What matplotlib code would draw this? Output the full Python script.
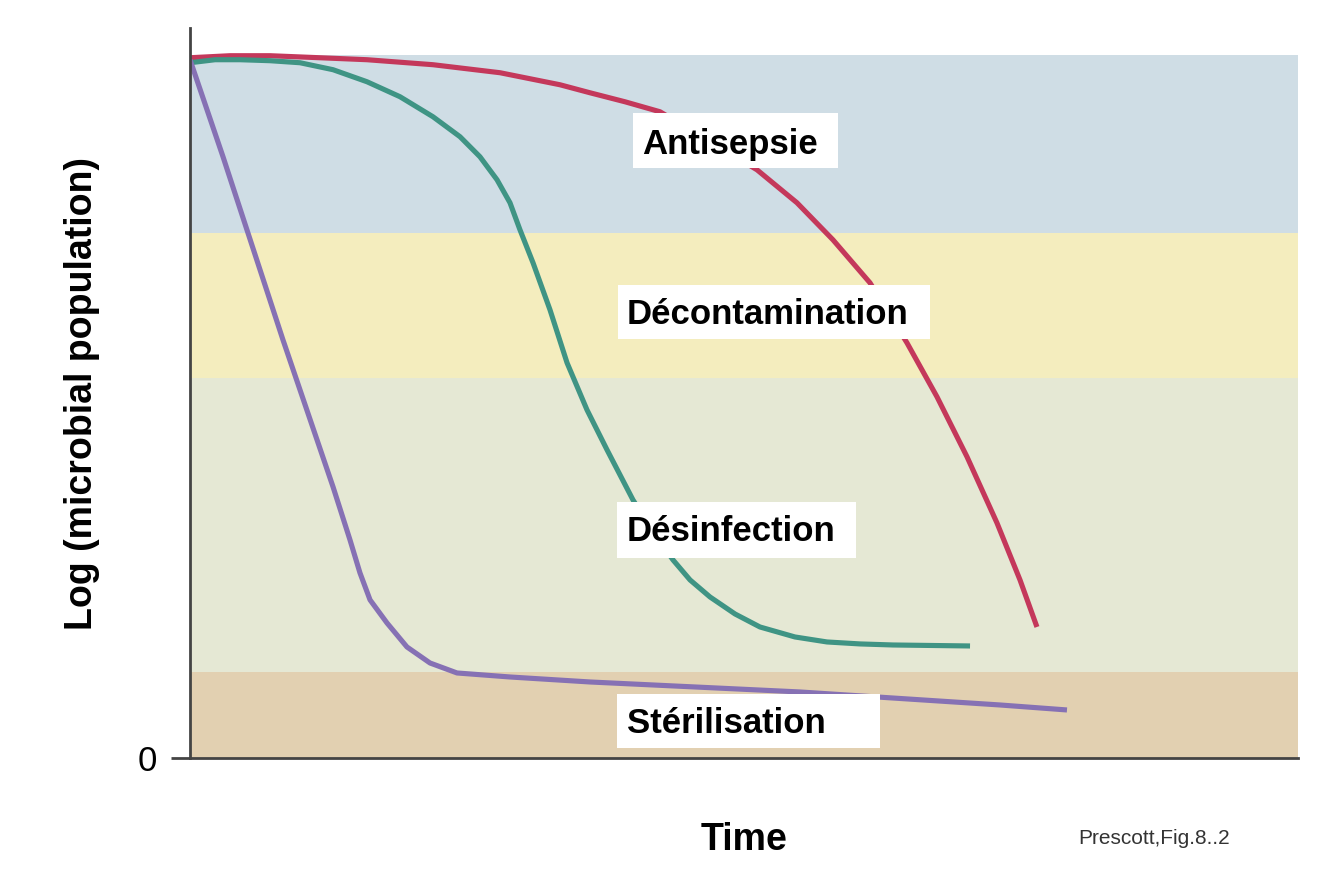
import matplotlib
matplotlib.use('Agg')
import matplotlib.pyplot as plt
from matplotlib.patches import Rectangle

plt.rcParams['font.family'] = ['Liberation Sans', 'DejaVu Sans']

# Zones (lower, upper) on the log-population axis
zone_names = ['Antisepsie', 'Décontamination', 'Désinfection', 'Stérilisation']
zone_bounds = [(7.47, 10.0), (5.41, 7.47), (1.22, 5.41), (0.0, 1.22)]
zone_colors = ['#cfdde5', '#f4edbe', '#e5e8d4', '#e2d0b1']

# Curves (time, log population)
antisepsie_t = [0, 3.61, 7.22, 11.73, 15.97, 21.93, 27.98, 33.39, 36.10, 39.26,
                42.42, 51.17, 54.78, 58.03, 61.37, 64.71, 67.42, 70.13, 72.83,
                74.91, 76.44]
antisepsie_y = [9.957, 9.986, 9.986, 9.957, 9.929, 9.858, 9.744, 9.573, 9.459,
                9.331, 9.189, 8.364, 7.895, 7.368, 6.757, 5.903, 5.135, 4.282,
                3.343, 2.532, 1.863]

desinfection_t = [0, 2.26, 4.51, 7.22, 9.93, 12.91, 15.97, 18.95, 21.93, 24.37,
                  26.17, 27.71, 28.88, 29.78, 30.96, 32.49, 34.03, 35.83, 37.64,
                  39.98, 41.79, 43.59, 45.13, 46.93, 49.19, 51.44, 54.60, 57.49,
                  60.47, 63.45, 70.40]
desinfection_y = [9.886, 9.929, 9.929, 9.915, 9.886, 9.787, 9.616, 9.403, 9.118,
                  8.834, 8.549, 8.222, 7.895, 7.511, 7.041, 6.373, 5.619, 4.950,
                  4.381, 3.670, 3.215, 2.817, 2.532, 2.290, 2.048, 1.863, 1.721,
                  1.650, 1.622, 1.607, 1.593]

sterilisation_t = [0, 2.98, 8.39, 12.91, 14.44, 15.34, 16.25, 17.78, 19.58,
                   21.66, 24.10, 28.88, 36.10, 55.05, 73.10, 79.15]
sterilisation_y = [9.929, 8.549, 5.946, 3.855, 3.101, 2.632, 2.248, 1.920, 1.579,
                   1.351, 1.209, 1.152, 1.081, 0.939, 0.754, 0.683]

fig = plt.figure(figsize=(13.34, 8.73), dpi=100)
ax = fig.add_axes([190 / 1334, 115 / 873, 1108 / 1334, 730 / 873])

# background zones
for (lo, hi), c in zip(zone_bounds, zone_colors):
    ax.axhspan(lo, hi, xmin=0, xmax=1, color=c, lw=0, zorder=0)

line_kw = dict(lw=3.7, zorder=2, solid_capstyle='butt', solid_joinstyle='round')
ax.plot(antisepsie_t, antisepsie_y, color='#c4385b', **line_kw)
ax.plot(desinfection_t, desinfection_y, color='#3f9484', **line_kw)
ax.plot(sterilisation_t, sterilisation_y, color='#8671b4', **line_kw)

# white label boxes: (box left, box right, box bottom, box top, text x, text y)
labels = [
    (39.98, 58.48, 8.39, 9.175, 40.8, 8.72),
    (38.63, 66.79, 5.96, 6.73, 39.44, 6.30),
    (38.54, 60.11, 2.84, 3.64, 39.44, 3.22),
    (38.54, 62.27, 0.14, 0.91, 39.44, 0.49),
]
for name, (x0, x1, y0, y1, tx, ty) in zip(zone_names, labels):
    ax.add_patch(Rectangle((x0, y0), x1 - x0, y1 - y0, facecolor='white',
                           edgecolor='none', zorder=3))
    ax.text(tx, ty, name, fontsize=25, fontweight='bold', color='black',
            ha='left', va='center', zorder=4)

ax.set_xlim(0, 100)
ax.set_ylim(0, 10.38)

for side in ['top', 'right']:
    ax.spines[side].set_visible(False)
for side in ['left', 'bottom']:
    ax.spines[side].set_color('#444444')
    ax.spines[side].set_linewidth(2)

ax.set_xticks([])
ax.set_yticks([0])
ax.set_yticklabels(['0'], fontsize=25)
ax.tick_params(axis='y', length=14, width=2, color='#444444', pad=10)

ax.set_xlabel('Time', fontsize=27, fontweight='bold', labelpad=46)
ax.set_ylabel('Log (microbial population)', fontsize=27, fontweight='bold',
              labelpad=27)

fig.text(1078 / 1334, 1 - 838 / 873, 'Prescott,Fig.8..2', fontsize=15,
         color='#333333', ha='left', va='center')

fig.savefig('out.png', dpi=100, facecolor='white')
plt.close(fig)
